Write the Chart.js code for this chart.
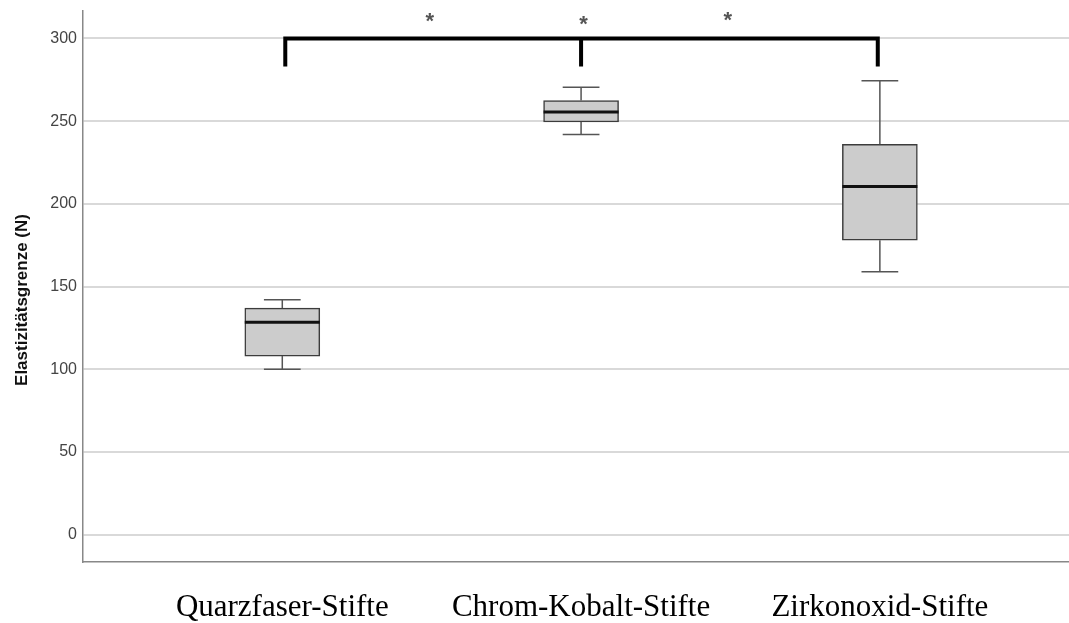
<!DOCTYPE html>
<html>
<head>
<meta charset="utf-8">
<script src="https://cdn.jsdelivr.net/npm/chart.js@4.4.0/dist/chart.umd.min.js"></script>
<style>
html, body { margin: 0; padding: 0; background: #fff; }
</style>
</head>
<body>
<canvas id="myChart" width="1069" height="623"></canvas>
<script>
// box plot values
const groups = ["Quarzfaser-Stifte", "Chrom-Kobalt-Stifte", "Zirkonoxid-Stifte"];
const groupPos = [1, 2, 3];
const whiskerLow = [100, 242, 159];
const q1 = [108, 249.5, 178];
const median = [128.5, 255.5, 210.5];
const q3 = [137, 262.5, 236];
const whiskerHigh = [142, 270.5, 274.5];
const yTicks = [0, 50, 100, 150, 200, 250, 300];

// significance bracket and stars
const bracketX = [1.01, 2.0, 2.993];
const bracketTop = 300;
const bracketFoot = 283;
const starX = [1.494, 2.008, 2.491];
const starY = [313, 311, 313.5];

const boxParts = {
  id: 'boxParts',
  afterDatasetsDraw(chart) {
    const ctx = chart.ctx;
    const xs = chart.scales.x, ys = chart.scales.y;
    const bars = chart.getDatasetMeta(0).data;
    ctx.save();
    for (let i = 0; i < groupPos.length; i++) {
      const px = xs.getPixelForValue(groupPos[i]);
      const w = bars[i].width;
      const cap = w * 0.49;
      ctx.strokeStyle = '#555';
      ctx.lineWidth = 1.5;
      ctx.beginPath();
      ctx.moveTo(px, ys.getPixelForValue(q3[i]));
      ctx.lineTo(px, ys.getPixelForValue(whiskerHigh[i]));
      ctx.moveTo(px, ys.getPixelForValue(q1[i]));
      ctx.lineTo(px, ys.getPixelForValue(whiskerLow[i]));
      ctx.moveTo(px - cap / 2, ys.getPixelForValue(whiskerHigh[i]));
      ctx.lineTo(px + cap / 2, ys.getPixelForValue(whiskerHigh[i]));
      ctx.moveTo(px - cap / 2, ys.getPixelForValue(whiskerLow[i]));
      ctx.lineTo(px + cap / 2, ys.getPixelForValue(whiskerLow[i]));
      ctx.stroke();
      ctx.strokeStyle = '#111';
      ctx.lineWidth = 3;
      ctx.beginPath();
      ctx.moveTo(px - w / 2, ys.getPixelForValue(median[i]));
      ctx.lineTo(px + w / 2, ys.getPixelForValue(median[i]));
      ctx.stroke();
    }
    // bracket
    ctx.strokeStyle = '#000';
    ctx.lineWidth = 4;
    ctx.lineCap = 'butt';
    ctx.beginPath();
    const yt = ys.getPixelForValue(bracketTop);
    const yf = ys.getPixelForValue(bracketFoot);
    ctx.moveTo(xs.getPixelForValue(bracketX[0]), yf);
    ctx.lineTo(xs.getPixelForValue(bracketX[0]), yt);
    ctx.lineTo(xs.getPixelForValue(bracketX[2]), yt);
    ctx.lineTo(xs.getPixelForValue(bracketX[2]), yf);
    ctx.moveTo(xs.getPixelForValue(bracketX[1]), yt);
    ctx.lineTo(xs.getPixelForValue(bracketX[1]), yf);
    ctx.stroke();
    // stars
    ctx.fillStyle = '#555';
    ctx.font = 'bold 22px "Liberation Sans", Arial, sans-serif';
    ctx.textAlign = 'center';
    ctx.textBaseline = 'middle';
    for (let i = 0; i < starX.length; i++) {
      ctx.fillText('*', xs.getPixelForValue(starX[i]), ys.getPixelForValue(starY[i]) + 5);
    }
    ctx.restore();
  }
};

const yTitle = {
  id: 'yTitle',
  afterDraw(chart) {
    const ctx = chart.ctx;
    ctx.save();
    ctx.translate(22, 300);
    ctx.rotate(-Math.PI / 2);
    ctx.fillStyle = '#111';
    ctx.font = 'bold 17px "Liberation Sans", Arial, sans-serif';
    ctx.textAlign = 'center';
    ctx.textBaseline = 'middle';
    ctx.fillText('Elastizitätsgrenze (N)', 0, 0);
    ctx.restore();
  }
};

new Chart("myChart", {
  type: "bar",
  data: {
    datasets: [{
      data: groupPos.map((p, i) => ({ x: p, y: [q1[i], q3[i]] })),
      backgroundColor: '#cccccc',
      borderColor: '#3c3c3c',
      borderWidth: 1.5,
      borderSkipped: false,
      barThickness: 75
    }]
  },
  options: {
    responsive: false,
    animation: false,
    devicePixelRatio: 1,
    layout: { padding: { top: 11, left: 0, right: 0, bottom: 0 } },
    plugins: { legend: { display: false }, tooltip: { enabled: false } },
    scales: {
      x: {
        type: 'linear',
        min: 0.333,
        max: 3.633,
        offset: false,
        grid: { display: false },
        border: { display: true, color: '#888', width: 1.5 },
        afterBuildTicks: (scale) => { scale.ticks = groupPos.map(v => ({ value: v })); },
        afterFit: (scale) => { scale.height = 61; scale.paddingLeft = 0; scale.paddingRight = 0; },
        ticks: {
          autoSkip: false,
          maxRotation: 0,
          padding: 19,
          color: '#000',
          font: { family: '"Liberation Serif", "Times New Roman", serif', size: 31 },
          callback: (v) => groups[groupPos.indexOf(v)]
        }
      },
      y: {
        min: -16.5,
        max: 316.6,
        afterBuildTicks: (scale) => { scale.ticks = yTicks.map(v => ({ value: v })); },
        afterFit: (scale) => { scale.width = 83; scale.paddingTop = 0; scale.paddingBottom = 0; },
        grid: { color: '#d9d9d9', lineWidth: 2, drawTicks: false },
        border: { display: true, color: '#888', width: 1.5 },
        ticks: {
          padding: 6,
          color: '#444',
          font: { family: '"Liberation Sans", Arial, sans-serif', size: 16 }
        }
      }
    }
  },
  plugins: [boxParts, yTitle]
});
</script>
</body>
</html>
